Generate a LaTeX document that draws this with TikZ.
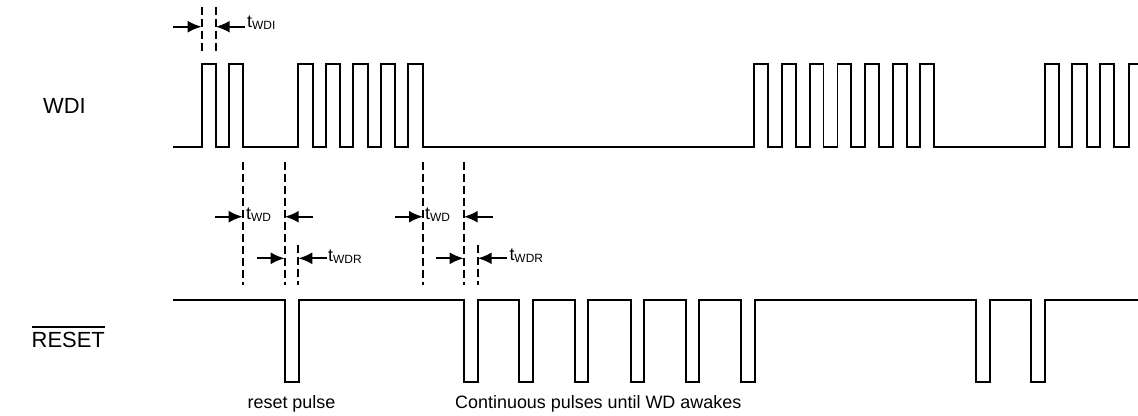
\documentclass[tikz,border=0pt]{standalone}
\usepackage{fontspec}
\setmainfont{Liberation Sans}
\usetikzlibrary{arrows.meta}
\newcommand\tsub[1]{t\raisebox{-2bp}{\fontsize{12}{14}\selectfont #1}}
\begin{document}
\begin{tikzpicture}[x=1bp,y=-1bp,
  sig/.style={line width=1.9bp},
  guide/.style={line width=1.7bp, dash pattern=on 8bp off 4bp},
  dimarrow/.style={line width=2.2bp, -{Latex[length=14bp,width=12bp]}},
  lbl/.style={inner sep=0pt, anchor=base east, font=\fontsize{22}{26}\selectfont},
  note/.style={inner sep=0pt, font=\fontsize{18}{22}\selectfont},
  tlbl/.style={inner sep=0pt, anchor=base west, font=\fontsize{18}{22}\selectfont}]
\useasboundingbox (0,0) rectangle (1138,415);

% ---- signal labels
\node[lbl] (wdi) at (86,113) {WDI};
\node[lbl] (rst) at (105,347) {RESET};
\draw[line width=1.8bp] ([yshift=4.5bp]rst.north west) -- ([yshift=4.5bp]rst.north east);

% ---- WDI waveform
\draw[sig] (173,147)
  \foreach \r/\f in {201.7/215.7, 229/243.3, 298.3/312.7, 326/340, 353.3/367.7,
                     381/395.3, 408.3/423.3, 754.3/768.3, 782/796, 810/823.5,
                     837.5/851, 865/879, 892.7/906.7, 920/934.3, 1045/1059.3,
                     1072.3/1086.7, 1100/1114.3}
  { -- (\r,147) -- (\r,64) -- (\f,64) -- (\f,147) }
  -- (1129,147) -- (1129,64) -- (1138,64);

% ---- RESET waveform
\draw[sig] (173,300)
  \foreach \f/\r in {285/299, 464/477.7, 519.3/533, 575/588.3, 630.7/644,
                     685.7/699, 741/755, 976/990, 1031/1045}
  { -- (\f,300) -- (\f,382) -- (\r,382) -- (\r,300) }
  -- (1138,300);

% ---- tWDI
\coordinate (a1t) at (201.7,7);  \coordinate (a1b) at (201.7,52);
\coordinate (a2t) at (215.7,7);  \coordinate (a2b) at (215.7,52);
\draw[guide] (a1t) -- (a1b);
\draw[guide] (a2t) -- (a2b);
\coordinate (a1s) at (173,26.7); \coordinate (a1e) at (201.7,26.7);
\coordinate (a2s) at (245,26.7); \coordinate (a2e) at (215.7,26.7);
\draw[dimarrow] (a1s) -- (a1e);
\draw[dimarrow] (a2s) -- (a2e);
\node[tlbl] (twdi) at (247,27) {\tsub{WDI}};

% ---- first watchdog timeout
\coordinate (b1t) at (242.7,161.7); \coordinate (b1b) at (242.7,285);
\coordinate (b2t) at (284.7,161.7); \coordinate (b2b) at (284.7,285);
\coordinate (b3t) at (298.3,245);   \coordinate (b3b) at (298.3,285);
\draw[guide] (b1t) -- (b1b);
\draw[guide] (b2t) -- (b2b);
\draw[guide] (b3t) -- (b3b);
\coordinate (b1s) at (215,216.7);   \coordinate (b1e) at (242.7,216.7);
\coordinate (b2s) at (312.7,216.7); \coordinate (b2e) at (284.7,216.7);
\draw[dimarrow] (b1s) -- (b1e);
\draw[dimarrow] (b2s) -- (b2e);
\node[tlbl] (twd1) at (246,219) {\tsub{WD}};
\coordinate (b3s) at (256.7,258.3); \coordinate (b3e) at (284.7,258.3);
\coordinate (b4s) at (326.7,258.3); \coordinate (b4e) at (298.3,258.3);
\draw[dimarrow] (b3s) -- (b3e);
\draw[dimarrow] (b4s) -- (b4e);
\node[tlbl] (twdr1) at (328,261) {\tsub{WDR}};

% ---- second watchdog timeout
\coordinate (c1t) at (423,161.7);   \coordinate (c1b) at (423,285);
\coordinate (c2t) at (463.7,161.7); \coordinate (c2b) at (463.7,285);
\coordinate (c3t) at (477.7,245);   \coordinate (c3b) at (477.7,285);
\draw[guide] (c1t) -- (c1b);
\draw[guide] (c2t) -- (c2b);
\draw[guide] (c3t) -- (c3b);
\coordinate (c1s) at (395,216.7);   \coordinate (c1e) at (423,216.7);
\coordinate (c2s) at (492.7,216.7); \coordinate (c2e) at (463.7,216.7);
\draw[dimarrow] (c1s) -- (c1e);
\draw[dimarrow] (c2s) -- (c2e);
\node[tlbl] (twd2) at (425,219) {\tsub{WD}};
\coordinate (c3s) at (436,258.3);   \coordinate (c3e) at (463.7,258.3);
\coordinate (c4s) at (506.7,258.3); \coordinate (c4e) at (477.7,258.3);
\draw[dimarrow] (c3s) -- (c3e);
\draw[dimarrow] (c4s) -- (c4e);
\node[tlbl] (twdr2) at (509.3,260) {\tsub{WDR}};

% ---- notes
\node[note, anchor=base] (rp) at (291.5,408) {reset pulse};
\node[note, anchor=base west] (cp) at (455,408) {Continuous pulses until WD awakes};
\end{tikzpicture}
\end{document}
